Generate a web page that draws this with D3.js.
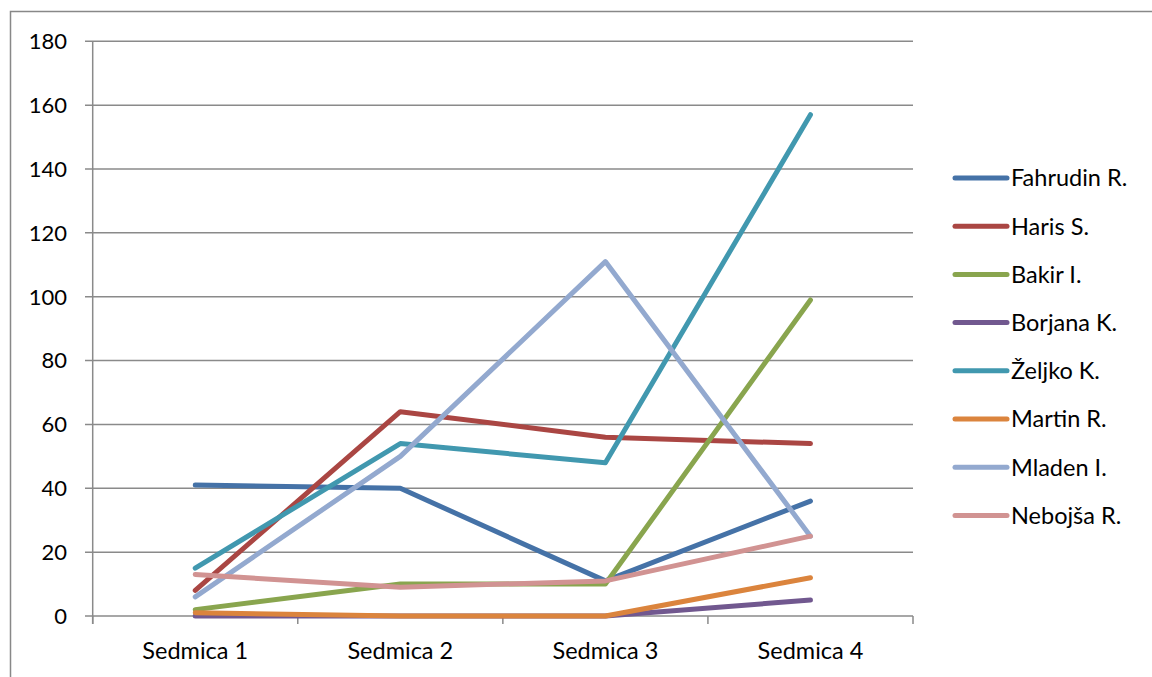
<!DOCTYPE html>
<html><head><meta charset="utf-8">
<script src="https://cdn.jsdelivr.net/npm/d3@7"></script>
<style>body{margin:0;background:#fff}svg{display:block}text{font-family:Lato,"Open Sans",sans-serif;fill:#000}</style>
</head><body>
<svg id="c" width="1152" height="677"></svg>
<script>
const categories = ["Sedmica 1","Sedmica 2","Sedmica 3","Sedmica 4"];
const seriesNames = ["Fahrudin R.","Haris S.","Bakir I.","Borjana K.","Željko K.","Martin R.","Mladen I.","Nebojša R."];
const fahrudin = [41,40,11,36];
const haris = [8,64,56,54];
const bakir = [2,10,10,99];
const borjana = [0,0,0,5];
const zeljko = [15,54,48,157];
const martin = [1,0,0,12];
const mladen = [6,50,111,25];
const nebojsa = [13,9,11,25];
const yTicks = [0,20,40,60,80,100,120,140,160,180];
const colors = ["#4572A7","#AA4643","#89A54E","#71588F","#4198AF","#DB843D","#93A9CF","#D19392"];
const values = [fahrudin,haris,bakir,borjana,zeljko,martin,mladen,nebojsa];

const svg = d3.select("#c");
svg.append("rect").attr("x",10.5).attr("y",11.5).attr("width",1160).attr("height",700)
  .attr("fill","none").attr("stroke","#888").attr("stroke-width",1.5);

const x0=92.7, x1=913, yTop=41.3, yBot=616;
const x = d3.scaleBand().domain(categories).range([x0,x1]);
const y = d3.scaleLinear().domain([0,180]).range([yBot,yTop]);

svg.append("g").selectAll("line").data(yTicks).join("line")
  .attr("x1",85).attr("x2",x1).attr("y1",d=>y(d)).attr("y2",d=>y(d))
  .attr("stroke","#8a8a8a").attr("stroke-width",1.5);
svg.append("line").attr("x1",x0).attr("x2",x0).attr("y1",yTop).attr("y2",yBot+8)
  .attr("stroke","#8a8a8a").attr("stroke-width",1.5);
const xt = categories.map(c=>x(c)).concat([x1]);
svg.append("g").selectAll("line").data(xt).join("line")
  .attr("x1",d=>d).attr("x2",d=>d).attr("y1",yBot).attr("y2",yBot+8)
  .attr("stroke","#8a8a8a").attr("stroke-width",1.5);
svg.append("g").selectAll("text").data(yTicks).join("text")
  .attr("x",67).attr("y",d=>y(d)).attr("dy","0.36em").attr("text-anchor","end")
  .attr("font-size",22).text(d=>d);
svg.append("g").selectAll("text").data(categories).join("text")
  .attr("x",d=>x(d)+x.bandwidth()/2).attr("y",659).attr("text-anchor","middle")
  .attr("font-size",23.5).text(d=>d);

const line = d3.line().x((d,i)=>x(categories[i])+x.bandwidth()/2).y(d=>y(d));
values.forEach((v,i)=>{
  svg.append("path").attr("d",line(v)).attr("fill","none").attr("stroke",colors[i])
    .attr("stroke-width",5).attr("stroke-linejoin","round").attr("stroke-linecap","round");
});

seriesNames.forEach((n,i)=>{
  const ly = 178 + i*48.2;
  svg.append("line").attr("x1",955).attr("x2",1007).attr("y1",ly).attr("y2",ly)
    .attr("stroke",colors[i]).attr("stroke-width",5).attr("stroke-linecap","round");
  svg.append("text").attr("x",1011).attr("y",ly).attr("dy","0.36em").attr("font-size",23.5).text(n);
});
</script>
</body></html>
